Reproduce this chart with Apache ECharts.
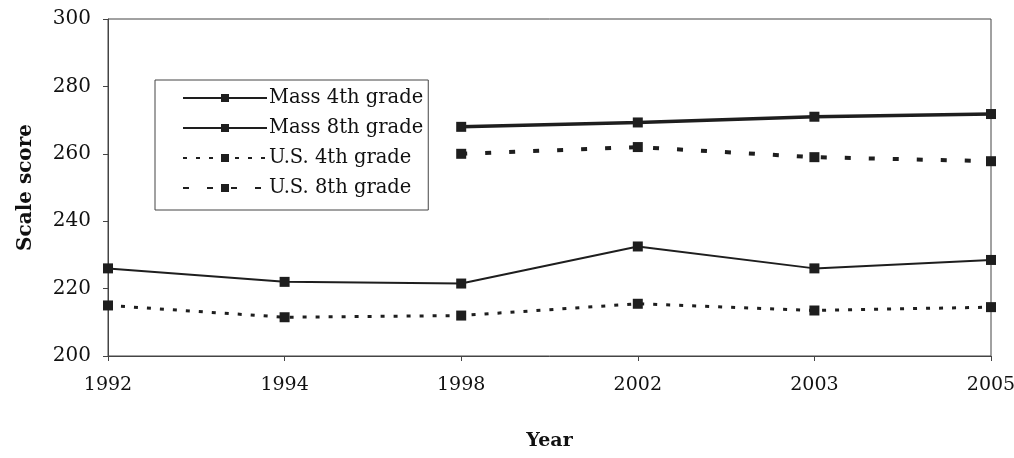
<!DOCTYPE html>
<html>
<head>
<meta charset="utf-8">
<style>
  html, body { margin: 0; padding: 0; background: #ffffff; }
  #chart { width: 1014px; height: 458px; }
</style>
<script src="https://cdn.jsdelivr.net/npm/echarts@6/dist/echarts.min.js"></script>
</head>
<body>
<div id="chart"></div>
<script>
// Survey years (equally spaced categories)
const years = ['1992', '1994', '1998', '2002', '2003', '2005'];

// Average scale scores
const mass4th = [226, 222, 221.5, 232.5, 226, 228.5];
const mass8th = [null, null, 268, 269.3, 271, 271.8];
const us4th = [215, 211.5, 212, 215.5, 213.5, 214.5];
const us8th = [null, null, 260, 262, 259, 257.8];

// Value axis ticks
const yMin = 200, yMax = 300, yStep = 20;

const ink = '#1e1e1e';
const serif = '"DejaVu Serif", "Liberation Serif", serif';

function lineSeries(name, data, width, type) {
  return {
    name: name,
    type: 'line',
    data: data,
    symbol: 'rect',
    symbolSize: 10,
    connectNulls: false,
    itemStyle: { color: ink },
    lineStyle: { color: ink, width: width, type: type },
    emphasis: { disabled: true },
    animation: false
  };
}

const chart = echarts.init(document.getElementById('chart'), null, { renderer: 'canvas' });
chart.setOption({
  backgroundColor: '#ffffff',
  animation: false,
  grid: {
    left: 108, right: 23, top: 19, bottom: 102,
    outerBoundsMode: 'none',
    show: true, borderColor: '#444', borderWidth: 1
  },
  legend: {
    orient: 'vertical',
    left: 155,
    top: 80,
    itemWidth: 84,
    itemHeight: 10,
    itemGap: 10,
    padding: [8, 5, 12, 27],
    backgroundColor: '#ffffff',
    borderColor: '#444',
    borderWidth: 1,
    textStyle: { fontFamily: serif, fontSize: 19.5, color: '#111', padding: [0, 0, 0, -3] },
    data: ['Mass 4th grade', 'Mass 8th grade', 'U.S. 4th grade', 'U.S. 8th grade']
  },
  xAxis: {
    type: 'category',
    data: years,
    boundaryGap: false,
    name: 'Year',
    nameLocation: 'middle',
    nameGap: 76,
    nameTextStyle: { fontFamily: serif, fontSize: 19, fontWeight: 'bold', color: '#111' },
    axisLine: { lineStyle: { color: '#444', width: 1 } },
    axisTick: { show: true, length: 5, lineStyle: { color: '#444' } },
    axisLabel: { fontFamily: serif, fontSize: 19, color: '#111', margin: 20 },
    splitLine: { show: false }
  },
  yAxis: {
    type: 'value',
    min: yMin,
    max: yMax,
    interval: yStep,
    name: 'Scale score',
    nameLocation: 'middle',
    nameGap: 72,
    nameTextStyle: { fontFamily: serif, fontSize: 20, fontWeight: 'bold', color: '#111' },
    axisLine: { show: true, lineStyle: { color: '#444', width: 1 } },
    axisTick: { show: true, length: 5, lineStyle: { color: '#444' } },
    axisLabel: { fontFamily: serif, fontSize: 20, color: '#111', margin: 17 },
    splitLine: { show: false }
  },
  series: [
    lineSeries('Mass 4th grade', mass4th, 2, 'solid'),
    lineSeries('Mass 8th grade', mass8th, 3.5, 'solid'),
    lineSeries('U.S. 4th grade', us4th, 3, [4, 9]),
    lineSeries('U.S. 8th grade', us8th, 4, [6, 18])
  ]
});
</script>
</body>
</html>
